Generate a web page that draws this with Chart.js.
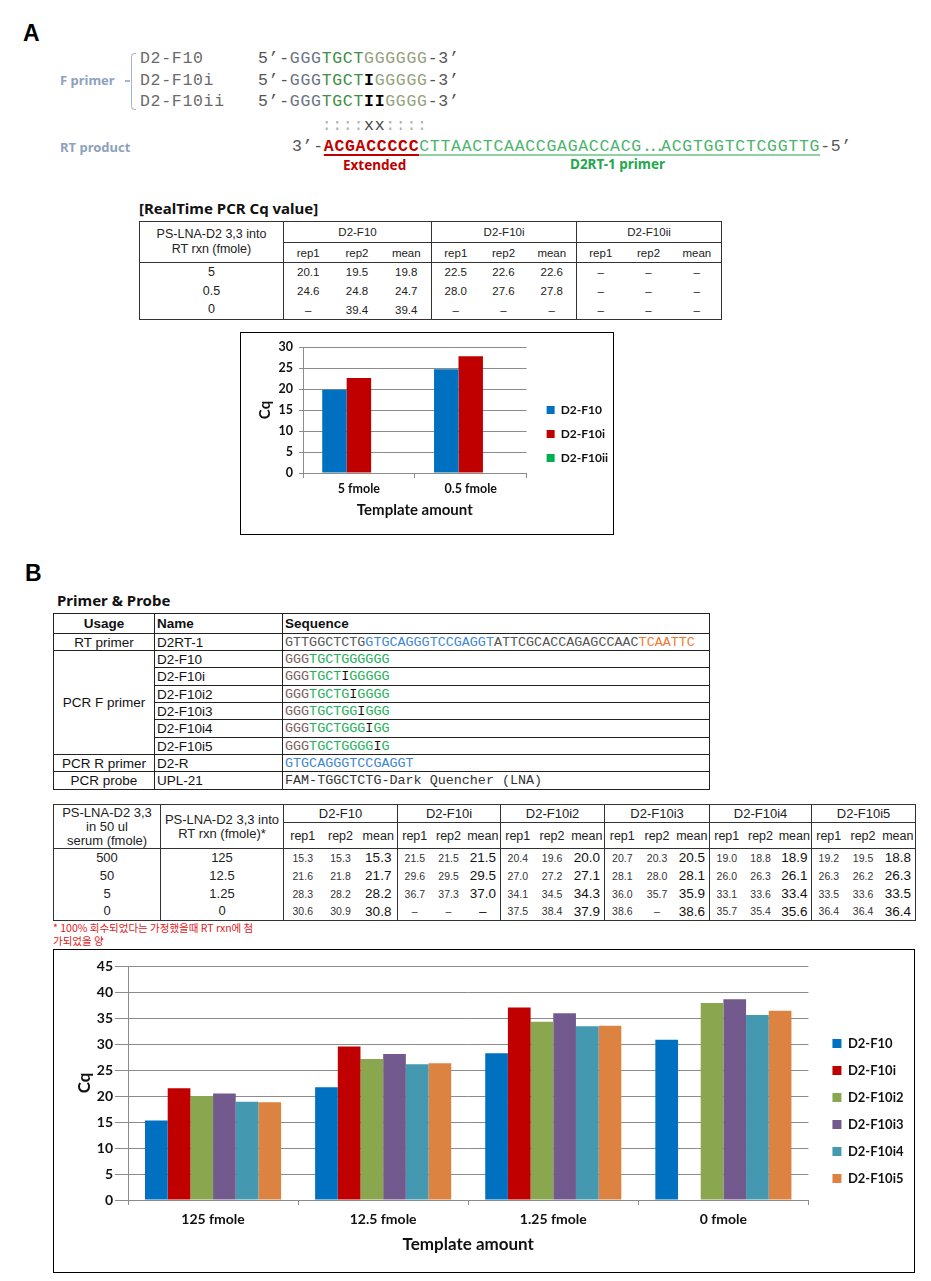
<!DOCTYPE html>
<html>
<head>
<meta charset="utf-8">
<title>D2 primer Cq</title>
<script src="https://cdn.jsdelivr.net/npm/chart.js@4.4.1/dist/chart.umd.min.js"></script>
<style>
  body { margin: 0; background: #fff; }
  #page { position: relative; width: 931px; height: 1281px; overflow: hidden; font-family: 'Liberation Sans', Arial, sans-serif; color: #222; }
  .t { position: absolute; white-space: pre; }
  .big { font: bold 23px/23px 'Liberation Sans', Arial, sans-serif; color: #000; }
  .side { font: bold 13px/16px 'Noto Sans', sans-serif; color: #8ea1be; }
  .mono { font-family: 'Liberation Mono', monospace; font-size: 16.5px; line-height: 18px; letter-spacing: 0.7px; color: #6a6a6a; }
  .p5 { color: #555; }
  .g0 { color: #6c7488; }
  .g1 { color: #3f8f45; }
  .g2 { color: #95a27c; }
  .ii { color: #000; font-weight: bold; }
  .dots { color: #b0b0b0; }
  .xx { color: #444; }
  .ext { color: #c00000; font-weight: bold; text-decoration: underline; text-decoration-thickness: 2px; text-underline-offset: 3px; }
  .rtp { color: #4cb46c; text-decoration: underline; text-decoration-color: #8fd3a5; text-decoration-thickness: 1.5px; text-underline-offset: 3px; }
  .ell { letter-spacing: -3.5px; }
  .note { font: bold 13.5px/18px 'Noto Sans', sans-serif; }
  .head { font: bold 15px/20px 'Noto Sans', sans-serif; color: #111; }

  table { position: absolute; border-collapse: collapse; table-layout: fixed; }
  td { padding: 0; white-space: nowrap; overflow: hidden; }

  #tabA { left: 139px; top: 221px; width: 582px; border: 1px solid #333; }
  #tabA td { text-align: center; font-size: 11.5px; color: #222; }
  #tabA .c1 { font-size: 12.5px; border-right: 1px solid #333; line-height: 15px; }
  #tabA .gh { border-left: 1px solid #333; border-bottom: 1px solid #333; }
  #tabA .sub td { border-bottom: 1px solid #333; }
  #tabA .gl { border-left: 1px solid #333; }
  #tabA tbody tr { height: 19px; }

  #tabP { left: 53px; top: 613px; width: 656px; }
  #tabP td { border: 1px solid #222; padding: 0 0 0 2px; font-size: 13.5px; color: #111; }
  #tabP .u { text-align: center; padding: 0; }
  #tabP .hd td { font-weight: bold; }
  #tabP .sq { font-family: 'Liberation Mono', monospace; font-size: 13.4px; color: #555; }
  .sb { color: #3f86cf; }
  .so { color: #ee7a36; }
  .sg { color: #25b05a; }
  .sk { color: #7a5e5e; }
  .si { color: #111; }

  #tabB { left: 53px; top: 804px; width: 862px; border: 1px solid #333; }
  #tabB td { text-align: center; color: #222; }
  #tabB .c1 { font-size: 13px; border-right: 1px solid #333; line-height: 14px; }
  #tabB .gh { font-size: 13px; border-left: 1px solid #333; border-bottom: 1px solid #333; }
  #tabB .sub td { border-bottom: 1px solid #333; font-size: 12.5px; }
  #tabB .gl { border-left: 1px solid #333; }
  #tabB .rp { font-size: 10.5px; color: #333; }
  #tabB .mn { font-size: 13.5px; color: #111; }
  #tabB tbody tr { height: 18px; }

  .fn { position: absolute; left: 53px; top: 921px; font: 10.5px/13px 'Noto Sans CJK KR', sans-serif; color: #e0201b; }
  .box { position: absolute; border: 1px solid #000; }
  .box canvas { display: block; }
</style>
</head>
<body>
<div id="page">

  <!-- panel A: primers -->
  <div class="t big" style="left:23px;top:22px">A</div>
  <div class="t side" style="left:60px;top:72px">F primer</div>
  <div style="position:absolute;left:125px;top:80px;width:5px;height:1.5px;background:#a9b7cc"></div>
  <div style="position:absolute;left:131px;top:53px;width:4px;height:55px;border:1.5px solid #a9b7cc;border-right:none;border-radius:4px 0 0 4px"></div>

  <div class="t mono" style="left:140px;top:50px">D2-F10</div>
  <div class="t mono" style="left:140px;top:72px">D2-F10i</div>
  <div class="t mono" style="left:140px;top:93px">D2-F10ii</div>

  <div class="t mono" style="left:258px;top:50px"><span class="p5">5’-</span><span class="g0">GGG</span><span class="g1">TGCT</span><span class="g2">GGGGGG</span><span class="p5">-3’</span></div>
  <div class="t mono" style="left:258px;top:72px"><span class="p5">5’-</span><span class="g0">GGG</span><span class="g1">TGCT</span><span class="ii">I</span><span class="g2">GGGGG</span><span class="p5">-3’</span></div>
  <div class="t mono" style="left:258px;top:93px"><span class="p5">5’-</span><span class="g0">GGG</span><span class="g1">TGCT</span><span class="ii">II</span><span class="g2">GGGG</span><span class="p5">-3’</span></div>
  <div class="t mono" style="left:258px;top:117px">      <span class="dots">::::</span><span class="xx">xx</span><span class="dots">::::</span></div>

  <div class="t side" style="left:60px;top:139px">RT product</div>
  <div class="t mono" style="left:292px;top:138px"><span class="p5">3’-</span><span class="ext">ACGACCCCC</span><span class="rtp">CTTAACTCAACCGAGACCACG<span class="ell">...</span>ACGTGGTCTCGGTTG</span><span class="p5">-5’</span></div>
  <div class="t note" style="left:343px;top:156px;color:#c00000">Extended</div>
  <div class="t note" style="left:570px;top:155px;color:#23a84e">D2RT-1 primer</div>

  <div class="t head" style="left:139px;top:198px">[RealTime PCR Cq value]</div>
  <table id="tabA">
    <colgroup>
      <col style="width:144px">
      <col style="width:49px"><col style="width:49px"><col style="width:50px">
      <col style="width:48px"><col style="width:48px"><col style="width:49px">
      <col style="width:48px"><col style="width:48px"><col style="width:49px">
    </colgroup>
    <thead>
      <tr style="height:21px">
        <td class="c1" rowspan="2" style="border-bottom:1px solid #333">PS-LNA-D2 3,3 into<br>RT rxn (fmole)</td>
        <td class="gh" colspan="3">D2-F10</td><td class="gh" colspan="3">D2-F10i</td><td class="gh" colspan="3">D2-F10ii</td>
      </tr>
      <tr class="sub" style="height:20px">
        <td class="gl">rep1</td><td>rep2</td><td>mean</td>
        <td class="gl">rep1</td><td>rep2</td><td>mean</td>
        <td class="gl">rep1</td><td>rep2</td><td>mean</td>
      </tr>
    </thead>
    <tbody id="bodyA"></tbody>
  </table>

  <div class="box" style="left:240px;top:332px;width:372px;height:201px">
    <canvas id="chartA" width="372" height="201"></canvas>
  </div>

  <!-- panel B -->
  <div class="t big" style="left:25px;top:562px">B</div>
  <div class="t head" style="left:57px;top:590px">Primer &amp; Probe</div>
  <table id="tabP">
    <colgroup><col style="width:101px"><col style="width:128px"><col style="width:427px"></colgroup>
    <tr class="hd" style="height:20px"><td class="u">Usage</td><td>Name</td><td>Sequence</td></tr>
    <tr style="height:17px"><td class="u">RT primer</td><td>D2RT-1</td><td class="sq"><span>GTTGGCTCTG</span><span class="sb">GTGCAGGGTCCGAGGT</span><span>ATTCGCACCAGAGCCAAC</span><span class="so">TCAATTC</span></td></tr>
    <tr style="height:17px"><td class="u" rowspan="6">PCR F primer</td><td>D2-F10</td><td class="sq"><span class="sk">GGG</span><span class="sg">TGCTGGGGGG</span></td></tr>
    <tr style="height:18px"><td>D2-F10i</td><td class="sq"><span class="sk">GGG</span><span class="sg">TGCT</span><span class="si">I</span><span class="sg">GGGGG</span></td></tr>
    <tr style="height:17px"><td>D2-F10i2</td><td class="sq"><span class="sk">GGG</span><span class="sg">TGCTG</span><span class="si">I</span><span class="sg">GGGG</span></td></tr>
    <tr style="height:17px"><td>D2-F10i3</td><td class="sq"><span class="sk">GGG</span><span class="sg">TGCTGG</span><span class="si">I</span><span class="sg">GGG</span></td></tr>
    <tr style="height:18px"><td>D2-F10i4</td><td class="sq"><span class="sk">GGG</span><span class="sg">TGCTGGG</span><span class="si">I</span><span class="sg">GG</span></td></tr>
    <tr style="height:17px"><td>D2-F10i5</td><td class="sq"><span class="sk">GGG</span><span class="sg">TGCTGGGG</span><span class="si">I</span><span class="sg">G</span></td></tr>
    <tr style="height:17px"><td class="u">PCR R primer</td><td>D2-R</td><td class="sq"><span class="sb">GTGCAGGGTCCGAGGT</span></td></tr>
    <tr style="height:18px"><td class="u">PCR probe</td><td>UPL-21</td><td class="sq" style="color:#333">FAM-TGGCTCTG-Dark Quencher (LNA)</td></tr>
  </table>

  <table id="tabB">
    <colgroup>
      <col style="width:107px"><col style="width:123px">
      <col style="width:38px"><col style="width:38px"><col style="width:38px">
      <col style="width:34px"><col style="width:34px"><col style="width:35px">
      <col style="width:34px"><col style="width:35px"><col style="width:35px">
      <col style="width:35px"><col style="width:35px"><col style="width:35px">
      <col style="width:34px"><col style="width:34px"><col style="width:34px">
      <col style="width:34px"><col style="width:35px"><col style="width:35px">
    </colgroup>
    <thead>
      <tr style="height:18px">
        <td class="c1" rowspan="2" style="border-bottom:1px solid #333">PS-LNA-D2 3,3<br>in 50 ul<br>serum (fmole)</td>
        <td class="c1" rowspan="2" style="border-bottom:1px solid #333">PS-LNA-D2 3,3 into<br>RT rxn (fmole)*</td>
        <td class="gh" colspan="3">D2-F10</td><td class="gh" colspan="3">D2-F10i</td><td class="gh" colspan="3">D2-F10i2</td>
        <td class="gh" colspan="3">D2-F10i3</td><td class="gh" colspan="3">D2-F10i4</td><td class="gh" colspan="3">D2-F10i5</td>
      </tr>
      <tr class="sub" style="height:26px">
        <td class="gl">rep1</td><td>rep2</td><td>mean</td>
        <td class="gl">rep1</td><td>rep2</td><td>mean</td>
        <td class="gl">rep1</td><td>rep2</td><td>mean</td>
        <td class="gl">rep1</td><td>rep2</td><td>mean</td>
        <td class="gl">rep1</td><td>rep2</td><td>mean</td>
        <td class="gl">rep1</td><td>rep2</td><td>mean</td>
      </tr>
    </thead>
    <tbody id="bodyB"></tbody>
  </table>
  <div class="fn">* 100% 회수되었다는 가정했을때 RT rxn에 첨<br>가되었을 양</div>

  <div class="box" style="left:53px;top:949px;width:860px;height:322px">
    <canvas id="chartB" width="860" height="322"></canvas>
  </div>
</div>

<script>
// ---- table A: Cq (rep1, rep2, mean) per RT input ----
const rtA = ['5', '0.5', '0'];
const cqA_F10 = [[20.1, 19.5, 19.8], [24.6, 24.8, 24.7], [null, 39.4, 39.4]];
const cqA_F10i = [[22.5, 22.6, 22.6], [28.0, 27.6, 27.8], [null, null, null]];
const cqA_F10ii = [[null, null, null], [null, null, null], [null, null, null]];

// ---- chart A ----
const tplA = ['5 fmole', '0.5 fmole'];
const seriesA = ['D2-F10', 'D2-F10i', 'D2-F10ii'];
const meanA_F10 = [19.8, 24.7];
const meanA_F10i = [22.6, 27.8];
const meanA_F10ii = [null, null];
const colorsA = ['#0070c0', '#c00000', '#00b050'];

// ---- table B ----
const serumB = ['500', '50', '5', '0'];
const rtB = ['125', '12.5', '1.25', '0'];
const cqB_F10 = [[15.3, 15.3, 15.3], [21.6, 21.8, 21.7], [28.3, 28.2, 28.2], [30.6, 30.9, 30.8]];
const cqB_F10i = [[21.5, 21.5, 21.5], [29.6, 29.5, 29.5], [36.7, 37.3, 37.0], [null, null, null]];
const cqB_F10i2 = [[20.4, 19.6, 20.0], [27.0, 27.2, 27.1], [34.1, 34.5, 34.3], [37.5, 38.4, 37.9]];
const cqB_F10i3 = [[20.7, 20.3, 20.5], [28.1, 28.0, 28.1], [36.0, 35.7, 35.9], [38.6, null, 38.6]];
const cqB_F10i4 = [[19.0, 18.8, 18.9], [26.0, 26.3, 26.1], [33.1, 33.6, 33.4], [35.7, 35.4, 35.6]];
const cqB_F10i5 = [[19.2, 19.5, 18.8], [26.3, 26.2, 26.3], [33.5, 33.6, 33.5], [36.4, 36.4, 36.4]];

// ---- chart B ----
const tplB = ['125 fmole', '12.5 fmole', '1.25 fmole', '0 fmole'];
const seriesB = ['D2-F10', 'D2-F10i', 'D2-F10i2', 'D2-F10i3', 'D2-F10i4', 'D2-F10i5'];
const meanB_F10 = [15.3, 21.7, 28.2, 30.8];
const meanB_F10i = [21.5, 29.5, 37.0, null];
const meanB_F10i2 = [20.0, 27.1, 34.3, 37.9];
const meanB_F10i3 = [20.5, 28.1, 35.9, 38.6];
const meanB_F10i4 = [18.9, 26.1, 33.4, 35.6];
const meanB_F10i5 = [18.8, 26.3, 33.5, 36.4];
const colorsB = ['#0070c0', '#c00000', '#8aa64e', '#735a8e', '#4498b0', '#dd8341'];

function fmt(v) { return v == null ? '–' : v.toFixed(1); }

// tables
let rowsA = '';
rtA.forEach((r, i) => {
  rowsA += '<tr><td class="c1">' + r + '</td>';
  [cqA_F10, cqA_F10i, cqA_F10ii].forEach(g => {
    g[i].forEach((v, k) => { rowsA += '<td' + (k === 0 ? ' class="gl"' : '') + '>' + fmt(v) + '</td>'; });
  });
  rowsA += '</tr>';
});
document.getElementById('bodyA').innerHTML = rowsA;

let rowsB = '';
serumB.forEach((s, i) => {
  rowsB += '<tr><td class="c1">' + s + '</td><td class="c1">' + rtB[i] + '</td>';
  [cqB_F10, cqB_F10i, cqB_F10i2, cqB_F10i3, cqB_F10i4, cqB_F10i5].forEach(g => {
    g[i].forEach((v, k) => {
      rowsB += '<td class="' + (k === 0 ? 'gl ' : '') + (k === 2 ? 'mn' : 'rp') + '">' + fmt(v) + '</td>';
    });
  });
  rowsB += '</tr>';
});
document.getElementById('bodyB').innerHTML = rowsB;

// charts
Chart.defaults.font.family = "Lato, 'Open Sans', sans-serif";
Chart.defaults.color = '#111';

const gridGray = '#8c8c8c';

// move the right-hand legend to where the original sits
const legendNudge = {
  id: 'legendNudge',
  afterLayout(chart, args, opts) {
    const lg = chart.legend;
    lg.left += opts.dx; lg.right += opts.dx;
    lg.top += opts.dy; lg.bottom += opts.dy;
  }
};

function cqChart(id, labels, datasets, o) {
  return new Chart(document.getElementById(id), {
    type: 'bar',
    data: { labels: labels, datasets: datasets },
    plugins: [legendNudge],
    options: {
      responsive: false,
      animation: false,
      layout: { padding: { left: 0, top: o.top, right: o.right, bottom: 4 } },
      datasets: { bar: { categoryPercentage: o.cat, barPercentage: 1 } },
      scales: {
        x: {
          grid: { offset: true, drawOnChartArea: false, color: gridGray, tickLength: 5 },
          border: { color: gridGray },
          ticks: { padding: o.xPad, maxRotation: 0, font: { size: o.tick, weight: 'bold' }, color: '#111' },
          title: { display: true, text: 'Template amount', color: '#111',
                   font: { size: o.title, weight: 'bold' }, padding: { top: 0, bottom: o.xTitlePad } },
          afterFit: s => { s.height = o.xHeight; }
        },
        y: {
          min: 0, max: o.max,
          ticks: { stepSize: 5, padding: o.yPad, font: { size: o.tick, weight: 'bold' }, color: '#111' },
          grid: { color: gridGray, tickLength: o.yTick },
          border: { color: gridGray },
          title: { display: true, text: 'Cq', color: '#111',
                   font: { size: o.title, weight: 'bold' }, padding: { top: o.yTitlePad, bottom: 0 } },
          afterFit: s => { s.width = o.yWidth; }
        }
      },
      plugins: {
        legend: {
          position: 'right',
          labels: { boxWidth: o.box, boxHeight: o.box, padding: o.legPad, color: '#111',
                    font: { size: o.leg, weight: 'bold' } }
        },
        tooltip: { enabled: false },
        legendNudge: { dx: o.dx, dy: o.dy }
      }
    }
  });
}

cqChart('chartA', tplA, [
  { label: seriesA[0], data: meanA_F10, backgroundColor: colorsA[0] },
  { label: seriesA[1], data: meanA_F10i, backgroundColor: colorsA[1] },
  { label: seriesA[2], data: meanA_F10ii, backgroundColor: colorsA[2] }
], { top: 14, right: 3, cat: 0.656, max: 30, tick: 12.5, title: 15, leg: 12, box: 8, legPad: 12,
     xPad: 3.5, xTitlePad: 11, xHeight: 57, yPad: 6, yTick: 4, yTitlePad: 15, yWidth: 62, dx: 8, dy: -4.5 });

cqChart('chartB', tplB, [
  { label: seriesB[0], data: meanB_F10, backgroundColor: colorsB[0] },
  { label: seriesB[1], data: meanB_F10i, backgroundColor: colorsB[1] },
  { label: seriesB[2], data: meanB_F10i2, backgroundColor: colorsB[2] },
  { label: seriesB[3], data: meanB_F10i3, backgroundColor: colorsB[3] },
  { label: seriesB[4], data: meanB_F10i4, backgroundColor: colorsB[4] },
  { label: seriesB[5], data: meanB_F10i5, backgroundColor: colorsB[5] }
], { top: 16, right: 10.5, cat: 0.8, max: 45, tick: 14, title: 17, leg: 13, box: 9, legPad: 14,
     xPad: 6, xTitlePad: 13.5, xHeight: 68, yPad: 2, yTick: 13, yTitlePad: 20.8, yWidth: 74, dx: 10, dy: -6 });
</script>
</body>
</html>
